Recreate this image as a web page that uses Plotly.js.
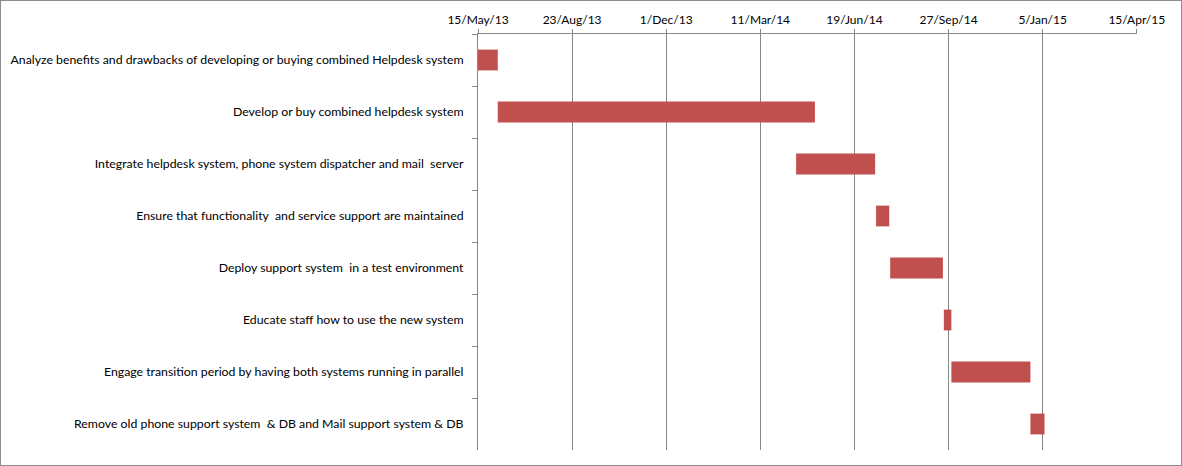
<!DOCTYPE html>
<html>
<head>
<meta charset="utf-8">
<script src="https://cdn.plot.ly/plotly-3.0.1.min.js"></script>
<style>
html,body{margin:0;padding:0;background:#fff;}
#chart{width:1182px;height:466px;box-sizing:border-box;border:1px solid #8c8c8c;}
</style>
</head>
<body>
<div id="chart"></div>
<script>
const tasks = [
  "Analyze benefits and drawbacks of developing or buying combined Helpdesk system",
  "Develop or buy combined helpdesk system",
  "Integrate helpdesk system, phone system dispatcher and mail  server",
  "Ensure that functionality  and service support are maintained",
  "Deploy support system  in a test environment",
  "Educate staff how to use the new system",
  "Engage transition period by having both systems running in parallel",
  "Remove old phone support system  & DB and Mail support system & DB"
];
const startDates = ["2013-05-15","2013-06-05","2014-04-18","2014-07-12","2014-07-27","2014-09-22","2014-09-30","2014-12-23"];
const endDates   = ["2013-06-05","2014-05-08","2014-07-11","2014-07-26","2014-09-21","2014-09-30","2014-12-23","2015-01-07"];
const tickDates  = ["2013-05-15","2013-08-23","2013-12-01","2014-03-11","2014-06-19","2014-09-27","2015-01-05","2015-04-15"];
const tickLabels = ["15/May/13","23/Aug/13","1/Dec/13","11/Mar/14","19/Jun/14","27/Sep/14","5/Jan/15","15/Apr/15"];

const durations = startDates.map((s,i)=> new Date(endDates[i]) - new Date(s));

const trace = {
  type: 'bar',
  orientation: 'h',
  y: tasks,
  base: startDates,
  x: durations,
  width: 0.4,
  marker: {color: '#C0504D', line: {width: 0}},
  hoverinfo: 'skip'
};

const grid = '#868686';
const layout = {
  width: 1180,
  height: 464,
  margin: {l: 477, r: 44, t: 33, b: 15, pad: 0},
  paper_bgcolor: '#fff',
  plot_bgcolor: '#fff',
  showlegend: false,
  font: {family: 'Lato, "Open Sans", sans-serif', size: 12, color: '#000'},
  xaxis: {
    type: 'date',
    side: 'top',
    range: ['2013-05-15', '2015-04-15 06:00'],
    tickmode: 'array',
    tickvals: tickDates,
    ticktext: tickLabels,
    showgrid: true,
    gridcolor: grid,
    gridwidth: 1,
    showline: true,
    linecolor: grid,
    linewidth: 1,
    ticks: 'outside',
    ticklen: 4,
    tickcolor: grid,
    zeroline: false,
    tickfont: {size: 12}
  },
  yaxis: {
    type: 'category',
    autorange: 'reversed',
    showgrid: false,
    showline: true,
    linecolor: grid,
    linewidth: 1,
    ticks: 'outside',
    tickson: 'boundaries',
    ticklen: 5,
    tickcolor: grid,
    ticklabelstandoff: 11,
    zeroline: false,
    tickfont: {size: 12.3}
  },
  bargap: 0.6
};

Plotly.newPlot('chart', [trace], layout, {staticPlot: true, displayModeBar: false});
</script>
</body>
</html>
